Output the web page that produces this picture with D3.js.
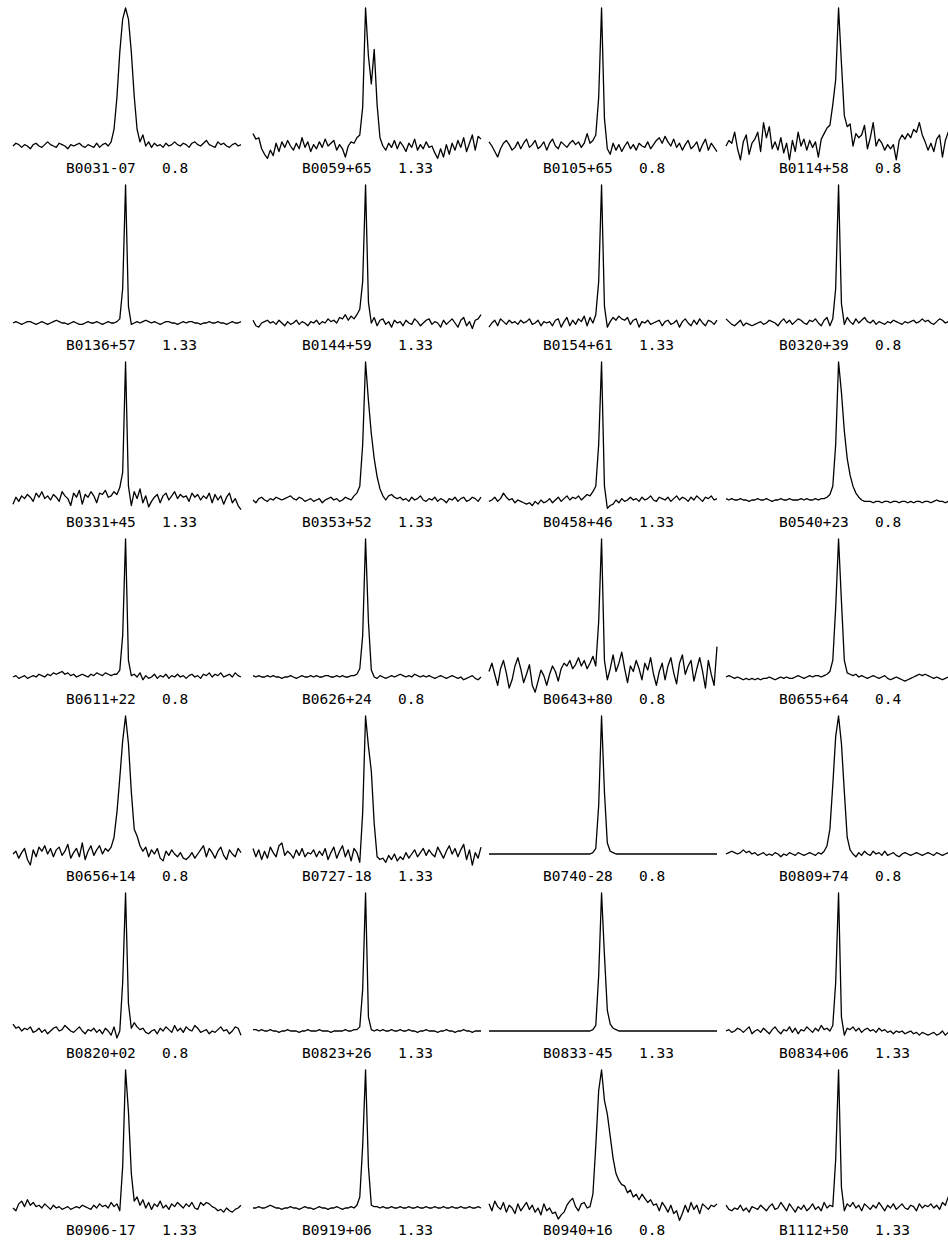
<!DOCTYPE html>
<html><head><meta charset="utf-8">
<script src="https://cdn.jsdelivr.net/npm/d3@7"></script>
<style>html,body{margin:0;padding:0;background:#fff;} svg{display:block;}</style>
</head><body>
<script>
// Pulsar names and scale factors, in reading order (4 per row)
const names = ["B0031-07","B0059+65","B0105+65","B0114+58",
  "B0136+57","B0144+59","B0154+61","B0320+39",
  "B0331+45","B0353+52","B0458+46","B0540+23",
  "B0611+22","B0626+24","B0643+80","B0655+64",
  "B0656+14","B0727-18","B0740-28","B0809+74",
  "B0820+02","B0823+26","B0833-45","B0834+06",
  "B0906-17","B0919+06","B0940+16","B1112+50"];
const factors = ["0.8","1.33","0.8","0.8",
  "1.33","1.33","1.33","0.8",
  "1.33","1.33","1.33","0.8",
  "0.8","0.8","0.8","0.4",
  "0.8","1.33","0.8","0.8",
  "0.8","1.33","1.33","1.33",
  "1.33","1.33","0.8","1.33"];

// Profile intensities (percent of peak), 80 phase bins each
const pB0031m07 = [0,2,1,-1,1,0,-2,1,2,0, -1,1,3,1,0,-1,2,1,0,-2, 1,0,1,2,0,-1,1,0,-1,2, -1,1,2,0,3,12,35,68,92, 100, 92,68,36,12,3,8,0,3,-1,2, 0,1,-1,2,0,1,3,1,0,2, 1,-1,2,3,1,0,2,4,1,0, -1,3,1,2,0,-1,1,2,0,1];
const pB0059p65 = [9,5,6,-2,-6,-9,-3,-7,2,-4, 3,-1,4,0,-3,2,-2,6,-1,3, -4,1,-2,3,-1,5,0,2,4,-3, 1,-2,-8,0,3,2,6,8,28, 100, 65,45,70,30,6,0,-3,2,-1,4, -2,3,0,-4,2,-1,5,-3,1,-2, 3,-1,0,-5,-9,-2,-8,1,-6,2, -3,4,-1,6,-4,2,8,-3,7,5];
const pB0105p65 = [3,0,-4,-8,-2,2,4,1,-3,-1, 3,-2,2,5,-1,1,4,-2,0,3, -3,2,5,0,-2,3,1,-1,2,4, 1,3,-1,2,9,2,4,8,35, 100, 20,-2,-6,2,-3,1,-4,0,3,-2, 1,-3,2,0,-1,3,-2,1,4,6, 2,7,3,0,5,-1,2,-3,1,4, -2,0,3,-4,1,5,-3,2,-1,-4];
const pB0114p58 = [0,4,2,10,-2,-10,3,8,-6,2, 5,10,-4,17,6,14,-2,3,-3,6, -5,2,-10,4,-4,10,0,5,-3,4, -1,3,-8,5,9,13,15,30,48, 100, 60,22,14,16,0,9,6,8,15,-2, 6,17,0,5,2,-3,1,-2,1,-10, 4,8,5,9,6,12,10,17,8,3, -3,2,-4,5,8,-8,4,10,-5,3];
const pB0136p57 = [0,1,0,-1,0,1,1,0,-1,0, 1,0,-1,0,1,2,1,0,0,-1, 0,1,0,-1,-1,0,1,0,0,1, 0,-1,0,1,0,0,1,3,25, 100, 12,-1,0,1,0,1,2,1,0,1, 0,-1,0,1,1,0,0,-1,0,1, 0,1,1,0,0,-1,0,0,1,0, 0,1,0,0,-1,0,1,0,0,1];
const pB0144p59 = [2,-2,-3,0,1,2,0,1,-1,2, 0,-2,1,-1,0,2,-1,1,0,-2, 1,0,2,-1,1,0,3,1,2,0, 4,3,6,2,5,3,6,10,30, 100, 15,0,4,-2,2,3,-1,1,-3,2, 0,1,-2,2,0,-1,3,1,-2,0, 2,3,-1,1,0,-3,2,-1,1,3, 0,-3,2,4,-2,1,-4,2,3,6];
const pB0154p61 = [-3,0,2,-2,3,1,-1,2,0,1, -1,2,0,1,3,-1,0,2,-2,1, 0,1,-2,2,3,-3,1,4,-2,2, -1,3,1,5,-2,4,0,6,30, 100, 12,-3,1,4,2,5,3,2,4,-1, 2,3,-3,1,0,2,-1,0,1,2, -2,1,2,-1,0,2,-3,1,3,0, -2,2,-1,3,0,-2,2,1,-1,2];
const pB0320p39 = [3,1,-1,-2,0,2,-2,0,-1,-2, -1,0,1,-1,0,2,1,0,-2,1, 3,0,2,-1,1,3,2,0,-1,2, 1,3,0,-2,2,4,-2,3,25, 100, 14,-1,4,1,-1,3,0,2,4,1, 0,2,-1,1,0,-1,1,0,2,1, 0,-1,1,0,1,2,0,1,3,1, 2,0,-1,1,3,2,0,1,2,1];
const pB0331p45 = [-3,2,-1,3,1,4,2,-1,5,2, 6,1,3,0,4,2,-1,6,3,1, -4,5,2,7,-3,4,2,6,3,-2, 5,4,7,2,3,6,4,9,20, 100, 10,-4,6,1,8,-2,3,-5,-1,2, 4,-2,3,5,0,3,6,1,4,2, 3,-1,5,2,4,0,3,1,5,-2, 4,0,3,-3,2,5,-2,1,-4,-7];
const pB0353p52 = [0,-2,1,2,0,-1,1,0,2,1, 0,1,2,3,1,0,2,1,-1,0, 1,-1,0,1,-2,0,1,2,0,1, -1,0,2,1,0,3,5,10,40, 100, 72,48,30,17,8,3,0,3,4,2, 1,2,0,1,-1,2,0,1,3,0, -1,1,0,2,-1,1,0,-2,1,0, 2,-1,1,2,-1,0,2,1,-1,2];
const pB0458p46 = [-1,0,2,-1,1,5,2,0,1,-2, 0,-1,-2,-3,-2,-4,-1,-3,0,-2, -1,1,-2,0,2,-1,1,3,0,2, 1,3,0,2,4,3,6,10,40, 100, 10,-6,-4,-3,0,-2,1,-1,0,2, 0,1,-1,2,0,1,3,0,-1,2, 1,0,2,-1,1,3,0,2,1,-1, 2,0,3,1,-1,2,1,3,0,1];
const pB0540p23 = [1,0,1,0,0,1,0,0,-1,0, 0,1,0,0,1,0,-1,0,0,1, 0,0,1,0,0,0,1,0,1,0, 0,1,0,1,1,2,4,10,40, 100, 78,50,30,18,10,5,2,0,-1,-1, -1,-2,-1,-1,-2,-1,-1,-2,-1,-1, -2,-1,-1,-2,-1,-2,-1,-1,-2,-1, -1,-2,-1,0,-1,-1,-2,-1,-1,-1];
const pB0611p22 = [0,1,-1,0,1,-1,0,1,0,2, 1,0,2,1,3,2,3,4,2,3, 1,2,0,1,2,1,0,2,1,3, 2,1,3,2,1,2,2,5,30, 100, 12,1,2,0,3,-2,1,-1,0,2, -1,1,0,2,-1,1,0,2,0,1, -1,1,2,0,1,-1,2,1,3,0, 2,1,3,0,1,2,0,3,1,0];
const pB0626p24 = [1,0,1,0,0,1,0,1,0,0, -1,0,0,1,0,-1,0,1,0,0, 1,0,1,0,0,1,1,0,0,1, 0,1,0,0,1,1,2,6,30, 100, 40,5,0,-1,1,0,-1,0,1,0, 1,2,1,0,1,0,2,1,0,1, 0,1,0,-1,0,1,0,-1,0,1, 0,-1,0,-2,-1,0,1,-1,-2,0];
const pB0643p80 = [4,10,2,-6,6,12,3,-8,-2,8, 14,6,-4,2,9,-6,-11,-3,5,1, -6,2,8,4,-3,6,10,8,12,6, 9,14,8,12,6,10,15,8,40, 100, 12,-2,6,16,4,10,18,6,-4,8, 4,12,6,-2,10,5,14,2,-6,4, 10,-2,8,14,3,-5,10,16,2,8, 12,-3,6,14,4,-8,12,2,-6,22];
const pB0655p64 = [0,1,0,-1,0,-1,-2,-1,-2,-1, -2,-1,-2,-1,-1,0,-1,-2,-1,0, -1,0,-1,-1,0,1,0,-1,0,1, 0,1,1,0,1,2,4,12,50, 100, 55,12,3,2,1,2,0,1,0,-1, 0,1,0,-1,0,1,-1,-2,-1,0, -1,-2,-3,-2,-1,0,1,2,1,2, 1,0,-1,0,-1,-2,-1,0,1,0];
const pB0656p14 = [0,2,-3,1,4,-4,-8,3,-2,5, 2,6,0,4,-2,3,5,-1,2,7, -3,1,4,-2,8,-4,2,6,-1,3, 6,0,4,2,5,12,30,55,82, 100, 80,45,18,13,6,2,5,-2,3,0, 4,-3,-5,2,-1,3,0,-2,1,-3, -4,-2,1,-3,0,3,6,-2,4,1, -3,2,5,-1,-4,3,0,-2,4,1];
const pB0727m18 = [4,-2,3,-4,2,-3,5,1,-2,6, 8,-1,2,0,-3,3,-1,4,-2,1, 0,3,-2,2,-1,4,-4,1,5,-3, 2,6,-2,3,-5,4,1,-6,30, 100, 78,60,22,-2,-4,-3,-6,-1,-4,0, -5,-2,-4,1,-3,0,3,-2,1,4, -1,3,0,-2,5,1,-3,2,6,0, 4,-2,3,7,-4,3,-8,1,-3,5];
const pB0740m28 = [0,0,0,0,0,0,0,0,0,0, 0,0,0,0,0,0,0,0,0,0, 0,0,0,0,0,0,0,0,0,0, 0,0,0,0,0,0,1,4,35, 100, 45,8,2,1,0,0,0,0,0,0, 0,0,0,0,0,0,0,0,0,0, 0,0,0,0,0,0,0,0,0,0, 0,0,0,0,0,0,0,0,0,0];
const pB0809p74 = [0,1,2,1,0,1,3,1,2,0, 1,-1,0,1,-1,0,-1,1,0,-2, 0,-1,1,0,-1,1,0,-1,0,1, 0,-1,1,0,2,6,18,50,85, 100, 80,45,12,3,0,-2,1,-1,2,0, -1,2,0,1,-1,2,-1,0,1,-1, -2,0,1,0,-1,0,1,0,-1,0, 1,0,-1,1,0,-1,0,1,0,1];
const pB0820p02 = [5,2,3,0,2,1,3,-1,0,2, -1,1,-2,0,2,3,0,1,4,2, 0,-1,1,3,0,-2,1,0,2,-1, 1,-2,2,0,-3,3,-5,0,35, 100, 20,2,6,3,1,2,-1,-2,0,1, -2,2,0,3,1,-1,4,0,2,-1, 3,1,0,4,2,-1,0,1,-2,0, -1,1,3,0,1,-2,0,3,2,-3];
const pB0823p26 = [1,1,0,1,0,0,1,0,0,-1, 0,0,1,0,0,0,-1,0,0,1, 0,0,0,1,0,0,0,-1,0,0, 0,0,1,0,0,1,1,3,30, 100, 10,1,0,1,0,1,0,0,1,0, 0,1,0,0,1,0,0,-1,0,0, 1,0,0,0,-1,0,0,1,0,0, -1,0,0,1,0,0,-1,0,0,0];
const pB0833m45 = [0,0,0,0,0,0,0,0,0,0, 0,0,0,0,0,0,0,0,0,0, 0,0,0,0,0,0,0,0,0,0, 0,0,0,0,0,0,1,4,40, 100, 55,15,5,2,1,0,0,0,0,0, 0,0,0,0,0,0,0,0,0,0, 0,0,0,0,0,0,0,0,0,0, 0,0,0,0,0,0,0,0,0,0];
const pB0834p06 = [0,1,-1,0,2,1,-1,1,3,-2, 0,1,-1,2,0,-2,1,3,0,-2, 1,0,3,-1,2,-2,1,0,3,1, -1,2,0,4,1,2,0,4,35, 100, 10,-3,2,1,3,0,2,-1,1,2, 0,1,-1,2,0,1,-1,0,-2,0, -1,0,-2,-1,0,-2,-1,-3,-1,-2, -3,-2,-1,-3,-2,0,-3,-1,2,-2];
const pB0906m17 = [0,-2,3,5,1,6,2,4,1,2, 0,3,1,-1,2,0,1,-1,0,1, -1,0,1,0,2,1,0,-1,2,0, 3,1,2,0,4,1,3,-2,30, 100, 70,25,5,8,2,6,0,4,-1,3, 1,5,0,2,-1,3,1,4,2,0, 3,1,4,0,-1,4,2,4,3,1, 0,-2,-1,-3,0,-2,-3,-1,0,2];
const pB0919p06 = [0,0,1,0,0,1,2,1,0,0, -1,0,0,1,0,0,-1,0,1,0, 0,-1,0,1,0,0,-1,0,0,1, 0,-1,0,0,1,0,2,8,45, 100, 30,2,1,1,0,1,0,0,1,0, 0,1,0,0,1,0,0,1,0,0, 1,0,0,1,0,0,1,0,0,1, 0,0,1,0,0,1,0,0,1,0];
const pB0940p16 = [3,-2,5,1,-1,4,-3,2,0,-4, 3,-2,1,4,-1,2,-3,0,-5,3, -2,0,-4,-3,-8,-5,-3,2,5,7, 1,-2,3,4,0,1,10,45,85, 100, 78,68,52,36,25,20,17,16,11,13, 8,10,6,10,7,4,6,2,3,-2, 4,1,-3,2,-4,-2,-9,-4,2,-3, 4,-1,2,-4,3,1,-1,2,1,3];
const pB1112p50 = [2,-1,-2,0,-1,2,-2,0,-3,1, 0,-1,2,0,-2,1,3,-1,0,4, 1,-2,3,0,-3,1,-1,2,-2,0, 3,-1,1,-2,4,0,2,1,35, 100, 15,-2,3,1,4,0,2,-2,3,1, -1,2,0,4,1,-2,2,0,3,-1, 1,3,0,-1,2,1,-2,3,0,2, 1,3,0,2,-1,4,2,8,1,3];

const profiles = [pB0031m07,pB0059p65,pB0105p65,pB0114p58,
  pB0136p57,pB0144p59,pB0154p61,pB0320p39,
  pB0331p45,pB0353p52,pB0458p46,pB0540p23,
  pB0611p22,pB0626p24,pB0643p80,pB0655p64,
  pB0656p14,pB0727m18,pB0740m28,pB0809p74,
  pB0820p02,pB0823p26,pB0833m45,pB0834p06,
  pB0906m17,pB0919p06,pB0940p16,pB1112p50];

const W = 948, H = 1241;
const svg = d3.select("body").append("svg").attr("width", W).attr("height", H);
const colX = [13, 253, 489, 726];
const panelW = 228;
const labelX = [66, 302, 543, 779];
const rowPitch = 177;

profiles.forEach((p, k) => {
  const r = Math.floor(k / 4), c = k % 4;
  const x = d3.scaleLinear().domain([0, 79]).range([colX[c], colX[c] + panelW]);
  const y = d3.scaleLinear().domain([0, 100]).range([146 + r * rowPitch, 8 + r * rowPitch]);
  const line = d3.line().x((d, i) => x(i)).y(d => y(d));
  svg.append("path").datum(p).attr("d", line)
    .attr("fill", "none").attr("stroke", "#000")
    .attr("stroke-width", 1.3).attr("stroke-linejoin", "round");
  const g = svg.append("g")
    .attr("font-family", "'DejaVu Sans Mono', monospace")
    .attr("font-size", "14.5px").attr("fill", "#000");
  g.append("text").attr("x", labelX[c]).attr("y", 173 + r * rowPitch).text(names[k]);
  g.append("text").attr("x", labelX[c] + 96).attr("y", 173 + r * rowPitch).text(factors[k]);
});
</script>
</body></html>
